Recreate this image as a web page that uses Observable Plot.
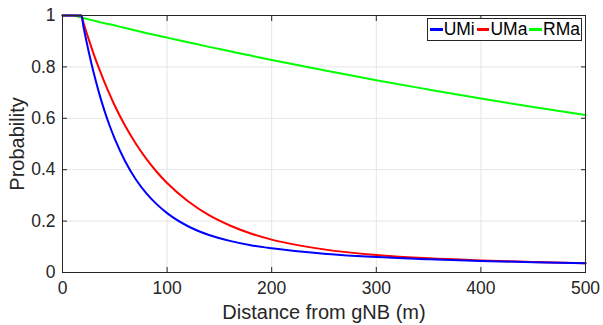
<!DOCTYPE html>
<html><head><meta charset="utf-8">
<script src="https://cdn.jsdelivr.net/npm/d3@7"></script>
<script src="https://cdn.jsdelivr.net/npm/@observablehq/plot@0.6"></script>
<style>
body{margin:0;background:#fff;}
#wrap{position:relative;width:603px;height:325px;font-family:"Liberation Sans",Arial,sans-serif;}
#wrap svg{font-family:"Liberation Sans",Arial,sans-serif;color:#262626;overflow:visible;}
#wrap svg g[aria-label$="tick label"]{font-size:17.5px;}
#wrap svg g[aria-label$="axis label"]{font-size:20px;}
#legend{position:absolute;left:427px;top:18px;width:155px;height:23px;box-sizing:border-box;border:1px solid #262626;background:#fff;display:flex;align-items:center;font-size:17.5px;color:#000;padding-left:1px;}
#legend .sw{display:inline-block;width:13px;height:3px;margin:0 1px 0 1px;}
#legend .lb{margin-right:1px;}
</style></head>
<body><div id="wrap"></div>
<script>
const distance = [0, 10, 18, 20, 25, 30, 35, 40, 45, 50, 60, 70, 80, 90, 100, 120, 140, 160, 180, 200, 250, 300, 350, 400, 450, 500];
const umi = [1, 1, 1, 0.957, 0.860, 0.774, 0.698, 0.631, 0.572, 0.520, 0.432, 0.363, 0.309, 0.266, 0.231, 0.180, 0.146, 0.123, 0.106, 0.094, 0.073, 0.060, 0.052, 0.045, 0.040, 0.036];
const uma = [1, 1, 1, 0.973, 0.908, 0.848, 0.793, 0.742, 0.694, 0.649, 0.570, 0.502, 0.443, 0.392, 0.348, 0.277, 0.223, 0.183, 0.152, 0.128, 0.090, 0.068, 0.055, 0.047, 0.041, 0.036];
const rma = [1, 1, 0.992, 0.990, 0.985, 0.980, 0.975, 0.970, 0.966, 0.961, 0.951, 0.942, 0.932, 0.923, 0.914, 0.896, 0.878, 0.861, 0.844, 0.827, 0.787, 0.748, 0.712, 0.677, 0.644, 0.613];
const seriesNames = ["UMi", "UMa", "RMa"];
const seriesColors = ["#0000ff", "#ff0000", "#00ff00"];
const xTicks = [0, 100, 200, 300, 400, 500];
const yTicks = [0, 0.2, 0.4, 0.6, 0.8, 1];
const yTickLabels = ["0", "0.2", "0.4", "0.6", "0.8", "1"];
const xLabel = "Distance from gNB (m)";
const yLabel = "Probability";

const seriesValues = {UMi: umi, UMa: uma, RMa: rma};
const drawOrder = ["RMa", "UMa", "UMi"];
const rows = drawOrder.flatMap(s => distance.map((d, i) => ({series: s, d, p: seriesValues[s][i]})));

const chart = Plot.plot({
  width: 603, height: 325,
  marginLeft: 62, marginRight: 18, marginTop: 15, marginBottom: 53,
  x: {domain: [0, 500]},
  y: {domain: [0, 1]},
  color: {domain: seriesNames, range: seriesColors},
  marks: [
    Plot.gridX(xTicks, {stroke: "#e6e6e6", strokeOpacity: 1}),
    Plot.gridY(yTicks, {stroke: "#e6e6e6", strokeOpacity: 1}),
    ...drawOrder.map(s => Plot.line(rows.filter(r => r.series === s), {x: "d", y: "p", stroke: "series", strokeWidth: 2, curve: "monotone-x"})),
    Plot.axisX(xTicks, {anchor: "bottom", tickSize: -5, tickPadding: 14, stroke: "#262626", label: xLabel, labelAnchor: "center", labelOffset: 46, labelArrow: "none"}),
    Plot.axisX(xTicks, {anchor: "top", tickSize: -5, text: null, label: null, stroke: "#262626"}),
    Plot.axisY(yTicks, {anchor: "left", tickSize: -5, tickPadding: 12, stroke: "#262626", tickFormat: (d, i) => yTickLabels[yTicks.indexOf(d)], label: yLabel, labelAnchor: "center", labelOffset: 53, labelArrow: "none"}),
    Plot.axisY(yTicks, {anchor: "right", tickSize: -5, text: null, label: null, stroke: "#262626"}),
    Plot.frame({stroke: "#262626"})
  ]
});
const wrap = document.getElementById("wrap");
wrap.appendChild(chart);
const legend = document.createElement("div");
legend.id = "legend";
seriesNames.forEach((s, i) => {
  const sw = document.createElement("span"); sw.className = "sw"; sw.style.background = seriesColors[i];
  const lb = document.createElement("span"); lb.className = "lb"; lb.textContent = s;
  legend.appendChild(sw); legend.appendChild(lb);
});
wrap.appendChild(legend);
</script></body></html>
